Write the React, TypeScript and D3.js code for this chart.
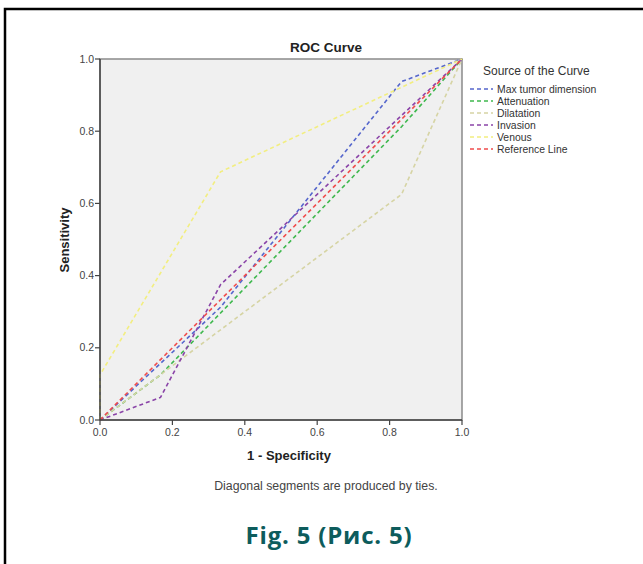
import React from 'react'
import * as d3 from 'd3'

type Pt = [number, number]

const seriesNames = ['Max tumor dimension', 'Attenuation', 'Dilatation', 'Invasion', 'Venous', 'Reference Line']
const seriesColors = ['#5566cc', '#3fb84e', '#d6d4a4', '#8a44a8', '#f2ee80', '#f04c4c']

const maxTumor: Pt[] = [[0, 0], [0.333, 0.3125], [0.833, 0.9375], [1, 1]]
const attenuation: Pt[] = [[0, 0], [0.167, 0.125], [0.833, 0.8125], [1, 1]]
const dilatation: Pt[] = [[0, 0], [0.833, 0.625], [1, 1]]
const invasion: Pt[] = [[0, 0], [0.167, 0.0625], [0.333, 0.375], [1, 1]]
const venous: Pt[] = [[0, 0], [0, 0.125], [0.333, 0.6875], [1, 1]]
const reference: Pt[] = [[0, 0], [1, 1]]

const allSeries = [maxTumor, attenuation, dilatation, invasion, venous, reference]
const tickValues = [0, 0.2, 0.4, 0.6, 0.8, 1.0]

const W = 643, H = 564
const X0 = 100, X1 = 462, Y0 = 420, Y1 = 59

export default function App() {
  const x = d3.scaleLinear().domain([0, 1]).range([X0, X1])
  const y = d3.scaleLinear().domain([0, 1]).range([Y0, Y1])
  const line = d3.line<Pt>().x(d => x(d[0])).y(d => y(d[1]))
  const font = 'Arial, "Liberation Sans", sans-serif'

  return (
    <div style={{ position: 'fixed', left: 0, top: 0, width: W, height: H, background: '#fff' }}>
      <svg width={W} height={H} style={{ display: 'block' }} fontFamily={font}>
        <rect x={5} y={9} width={700} height={700} fill="none" stroke="#000" strokeWidth={2.5} />
        <text x={326} y={52} textAnchor="middle" fontSize={13.5} fontWeight="bold" fill="#222">ROC Curve</text>

        <rect x={X0} y={Y1} width={X1 - X0} height={Y0 - Y1} fill="#f0f0f0" stroke="#8a8a8a" strokeWidth={1.5} />

        {allSeries.map((s, i) => (
          <path key={i} d={line(s) || ''} fill="none" stroke={seriesColors[i]}
            strokeWidth={1.6} strokeDasharray="4,3" />
        ))}

        <line x1={X0} x2={X0} y1={Y1} y2={Y0} stroke="#444" strokeWidth={1.5} />
        <line x1={X0} x2={X1} y1={Y0} y2={Y0} stroke="#444" strokeWidth={1.5} />

        {tickValues.map(t => (
          <g key={'y' + t}>
            <line x1={X0 - 5} x2={X0} y1={y(t)} y2={y(t)} stroke="#444" strokeWidth={1.2} />
            <text x={X0 - 6} y={y(t) + 3.5} textAnchor="end" fontSize={10.5} fill="#444">{t.toFixed(1)}</text>
          </g>
        ))}
        {tickValues.map(t => (
          <g key={'x' + t}>
            <line x1={x(t)} x2={x(t)} y1={Y0} y2={Y0 + 5} stroke="#444" strokeWidth={1.2} />
            <text x={x(t)} y={Y0 + 16} textAnchor="middle" fontSize={10.5} fill="#444">{t.toFixed(1)}</text>
          </g>
        ))}

        <text x={289} y={460} textAnchor="middle" fontSize={13} fontWeight="bold" fill="#222">1 - Specificity</text>
        <text transform="translate(69,240) rotate(-90)" textAnchor="middle" fontSize={13} fontWeight="bold" fill="#222">Sensitivity</text>

        <text x={483} y={75} fontSize={12} fill="#333">Source of the Curve</text>
        {seriesNames.map((n, i) => (
          <g key={n}>
            <line x1={470} x2={493} y1={89 + i * 12} y2={89 + i * 12} stroke={seriesColors[i]}
              strokeWidth={1.6} strokeDasharray="4,3" />
            <text x={497} y={92.5 + i * 12} fontSize={10.4} fill="#333">{n}</text>
          </g>
        ))}

        <text x={326} y={490} textAnchor="middle" fontSize={12.3} fill="#444">Diagonal segments are produced by ties.</text>
        <text x={329} y={544} textAnchor="middle" fontSize={24} fontWeight="bold" fill="#0d5c5c"
          letterSpacing={0.8} fontFamily='"Open Sans", Lato, sans-serif'>Fig. 5 (Рис. 5)</text>
      </svg>
    </div>
  )
}
